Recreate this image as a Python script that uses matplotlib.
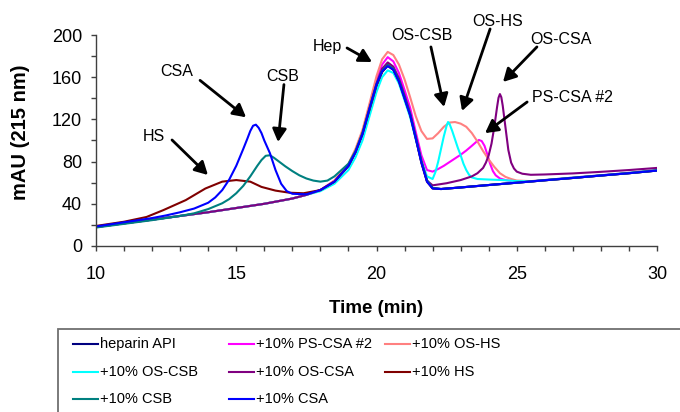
import matplotlib
matplotlib.use("Agg")
import matplotlib.pyplot as plt
from matplotlib.lines import Line2D
from matplotlib.patches import Rectangle
from matplotlib.ticker import MultipleLocator

plt.rcParams.update({
    "font.family": ["Liberation Sans", "DejaVu Sans"],
    "font.size": 12,
})

# --- chromatogram traces (time in min, mAU) ---
PRE_T = [10, 11, 12, 13, 14, 15, 16, 17, 17.5]
PRE_Y = [18, 21.5, 25, 28.5, 32, 36, 40, 45, 48.5]

HEP_T = PRE_T + [18, 18.5, 19, 19.25, 19.5, 19.75, 20, 20.2, 20.4, 20.6, 20.8,
                 21, 21.2, 21.4, 21.6, 21.8, 22, 22.3, 23, 24, 25, 26, 27, 28, 29, 30]
HEP_Y = PRE_Y + [53, 61, 76, 89, 106, 129, 152, 165, 171.5, 168, 157,
                 141, 125, 103, 80, 62, 55, 54, 55.5, 57.8, 60, 62.3, 64.5, 66.8, 69, 71.5]

PSCSA_T = PRE_T + [18, 18.5, 19, 19.25, 19.5, 19.75, 20, 20.2, 20.4, 20.6, 20.8,
                   21, 21.2, 21.4, 21.6, 21.8, 22, 22.2, 22.4, 22.6, 22.8,
                   23, 23.2, 23.4, 23.55, 23.65, 23.75, 23.85, 23.95, 24.05, 24.15, 24.25,
                   24.4, 24.6, 24.8, 25, 25.5, 26, 27, 28, 29, 30]
PSCSA_Y = PRE_Y + [53, 62, 77, 90, 108, 132, 157, 172, 179, 175, 164,
                   148, 131, 108, 86, 72, 70.5, 73, 76, 79.5, 83,
                   86.5, 90.5, 95, 98.5, 100.5, 99.5, 95, 87, 78, 71, 67,
                   64, 62.5, 61.5, 61, 61.3, 62.5, 64.8, 67, 69.3, 72]

OSHS_T = PRE_T + [18, 18.5, 19, 19.25, 19.5, 19.75, 20, 20.2, 20.4, 20.6, 20.8,
                  21, 21.2, 21.4, 21.6, 21.8, 22, 22.2, 22.4, 22.6, 22.8,
                  23, 23.2, 23.4, 23.6, 23.8, 24, 24.2, 24.4, 24.6, 24.8,
                  25, 25.5, 26, 27, 28, 29, 30]
OSHS_Y = PRE_Y + [53, 62, 78, 92, 110, 135, 161, 177, 184, 181, 172,
                  158, 141, 123, 109, 101.5, 102, 107, 113, 117, 117.5,
                  116, 113, 107, 99, 90, 82, 75, 69, 65.5, 63.5,
                  62, 61.5, 62.5, 64.8, 67, 69.3, 72]

OSCSB_T = PRE_T + [18, 18.5, 19, 19.25, 19.5, 19.75, 20, 20.2, 20.4, 20.6, 20.8,
                   21, 21.2, 21.4, 21.6, 21.8, 22, 22.1, 22.2, 22.3, 22.4, 22.5, 22.55,
                   22.6, 22.7, 22.8, 22.9, 23, 23.1, 23.2, 23.3, 23.4, 23.6, 24, 24.5,
                   25, 25.5, 26, 27, 28, 29, 30]
OSCSB_Y = PRE_Y + [52, 59, 72, 84, 100, 123, 146, 160, 166.5, 164, 154,
                   138, 122, 101, 81, 66, 63.5, 70, 80, 92, 104, 114, 117.5,
                   116, 109, 101, 93, 86, 78, 72, 67.5, 65, 63.5, 63, 62.5,
                   61.5, 61.3, 62.5, 64.8, 67, 69.3, 72]

OSCSA_T = PRE_T + [18, 18.5, 19, 19.25, 19.5, 19.75, 20, 20.2, 20.4, 20.6, 20.8,
                   21, 21.2, 21.4, 21.6, 21.8, 22, 22.5, 23, 23.4, 23.6, 23.8, 23.9,
                   24, 24.1, 24.2, 24.3, 24.35, 24.4, 24.45, 24.5, 24.6, 24.7, 24.8, 24.9,
                   25, 25.2, 25.5, 26, 27, 28, 29, 30]
OSCSA_Y = PRE_Y + [53, 61, 76, 89, 107, 131, 154, 168, 174, 170, 159,
                   143, 126, 104, 81, 62, 57.5, 59.5, 62.5, 66, 69, 74, 79,
                   86, 97, 113, 132, 140.5, 144, 141, 133, 112, 91, 79, 73.5,
                   70.5, 68.5, 67.5, 67.8, 68.8, 70.3, 72, 74]

HS_T = [10, 11, 11.8, 12.4, 13.2, 13.9, 14.5, 15, 15.5, 15.9, 16.4, 16.9, 17.4,
        18, 18.5, 19, 19.25, 19.5, 19.75, 20, 20.2, 20.4, 20.6, 20.8,
        21, 21.2, 21.4, 21.6, 21.8, 22, 22.3, 23, 24, 25, 26, 27, 28, 29, 30]
HS_Y = [19, 23, 27.5, 34, 43.5, 54.5, 61, 62.5, 61, 56, 52.5, 50.5, 50,
        53, 61, 76, 89, 106, 129, 152, 165, 171, 167, 156,
        140, 124, 102, 79, 61, 54.5, 54, 55.5, 57.8, 60, 62.3, 64.5, 66.8, 69, 71.5]

CSB_T = [10, 11, 12, 13, 13.5, 14, 14.5, 14.75, 15, 15.25, 15.5, 15.75,
         15.9, 16.05, 16.2, 16.35, 16.5, 16.75, 17, 17.25, 17.5, 17.75, 18, 18.25, 18.5,
         19, 19.25, 19.5, 19.75, 20, 20.2, 20.4, 20.6, 20.8,
         21, 21.2, 21.4, 21.6, 21.8, 22, 22.3, 23, 24, 25, 26, 27, 28, 29, 30]
CSB_Y = [17.5, 21, 24.5, 28.5, 31, 35, 40.5, 44.5, 50, 57, 66, 76,
         81.5, 85.5, 86, 83.5, 80.5, 75.5, 71, 67, 64, 62, 61, 62, 66,
         78, 90, 107, 130, 153, 166, 171.5, 168, 157,
         141, 125, 103, 80, 62, 55, 54, 55.5, 57.8, 60, 62.3, 64.5, 66.8, 69, 71.5]

CSA_T = [10, 11, 12, 12.5, 13, 13.5, 14, 14.25, 14.5, 14.75, 15, 15.25, 15.4, 15.5,
         15.6, 15.7, 15.8, 15.9, 16, 16.2, 16.4, 16.6, 16.8, 17, 17.5, 18, 18.5,
         19, 19.25, 19.5, 19.75, 20, 20.2, 20.4, 20.6, 20.8,
         21, 21.2, 21.4, 21.6, 21.8, 22, 22.3, 23, 24, 25, 26, 27, 28, 29, 30]
CSA_Y = [18.5, 22.5, 26.5, 29, 32, 35.5, 41, 46, 53, 63, 76, 92, 102, 109,
         114, 115, 112, 107, 100, 88, 72, 59, 52, 49.5, 49, 53, 61,
         76, 89, 106, 130, 153, 165.5, 170.5, 167, 156,
         140, 124, 102, 79, 61, 54.5, 54, 55.5, 57.8, 60, 62.3, 64.5, 66.8, 69, 71.5]

SERIES = [
    ("heparin API", "#000080", HEP_T, HEP_Y),
    ("+10% PS-CSA #2", "#FF00FF", PSCSA_T, PSCSA_Y),
    ("+10% OS-HS", "#FF8080", OSHS_T, OSHS_Y),
    ("+10% OS-CSB", "#00FFFF", OSCSB_T, OSCSB_Y),
    ("+10% OS-CSA", "#800080", OSCSA_T, OSCSA_Y),
    ("+10% HS", "#800000", HS_T, HS_Y),
    ("+10% CSB", "#008080", CSB_T, CSB_Y),
    ("+10% CSA", "#0000FF", CSA_T, CSA_Y),
]

# peak callouts: label, text position, arrow tail, arrow head (data coords)
CALLOUTS = [
    ("CSA", (12.89, 165), (13.71, 157), (15.35, 122)),
    ("CSB", (16.67, 161), (16.70, 153), (16.49, 98.6)),
    ("HS", (12.07, 104), (12.71, 100.5), (13.99, 67.3)),
    ("Hep", (18.24, 188.7), (18.95, 187.7), (19.84, 174.4)),
    ("OS-CSB", (21.62, 200), (21.94, 188.7), (22.41, 131.8)),
    ("OS-HS", (24.33, 213), (24.05, 205.7), (23.05, 128)),
    ("OS-CSA", (26.58, 195.3), (25.72, 188.7), (24.51, 155.5)),
    ("PS-CSA #2", (27.0, 140.3), (25.37, 136.5), (23.87, 107)),
]

W, H = 680, 412
fig = plt.figure(figsize=(W / 100, H / 100), dpi=100)
ax = fig.add_axes([96 / W, 1 - 246 / H, 561 / W, 211 / H])

for label, color, t, y in SERIES:
    ax.plot(t, y, color=color, lw=1.5, label=label,
            solid_joinstyle="round", solid_capstyle="round")

for label, txt, tail, head in CALLOUTS:
    ax.text(txt[0], txt[1], label, ha="center", va="center", fontsize=11.5,
            clip_on=False)
    ax.annotate("", xy=head, xytext=tail,
                arrowprops=dict(arrowstyle="-|>,head_length=0.55,head_width=0.3",
                                color="black", lw=2.0, mutation_scale=14,
                                shrinkA=0, shrinkB=0))

ax.set_xlim(10, 30)
ax.set_ylim(0, 200)
ax.xaxis.set_major_locator(MultipleLocator(5))
ax.xaxis.set_minor_locator(MultipleLocator(1))
ax.yaxis.set_major_locator(MultipleLocator(40))
ax.yaxis.set_minor_locator(MultipleLocator(20))
for s in ("top", "right"):
    ax.spines[s].set_visible(False)
for s in ("left", "bottom"):
    ax.spines[s].set_color("#404040")
    ax.spines[s].set_linewidth(1.0)
ax.tick_params(which="both", direction="out", length=3.5, width=1.0, color="#404040")
ax.tick_params(axis="x", which="major", labelsize=13, pad=11)
ax.tick_params(axis="y", which="major", labelsize=13, pad=6.5)

ax.set_xlabel("Time (min)", fontsize=13.5, fontweight="bold")
ax.xaxis.set_label_coords(0.5, -0.255)
ax.set_ylabel("mAU (215 nm)", fontsize=14.5, fontweight="bold")
ax.yaxis.set_label_coords(-0.118, 0.54)

# legend box, drawn by hand to match the three evenly spaced columns
fig.add_artist(Rectangle((58 / W, -0.2), 1.0, 0.2 + (1 - 329 / H),
                         transform=fig.transFigure, fill=False,
                         edgecolor="#707070", lw=1.3))
col_x = [73, 229, 385]
row_y = [344, 372, 399]
for i, (label, color, _, _) in enumerate(SERIES):
    r, c = divmod(i, 3)
    x0, yy = col_x[c], row_y[r]
    fig.add_artist(Line2D([x0 / W, (x0 + 25) / W], [1 - yy / H, 1 - yy / H],
                          transform=fig.transFigure, color=color, lw=1.5))
    fig.text((x0 + 27) / W, 1 - yy / H, label, ha="left", va="center",
             fontsize=10.5)

fig.savefig("out.png", dpi=100)
